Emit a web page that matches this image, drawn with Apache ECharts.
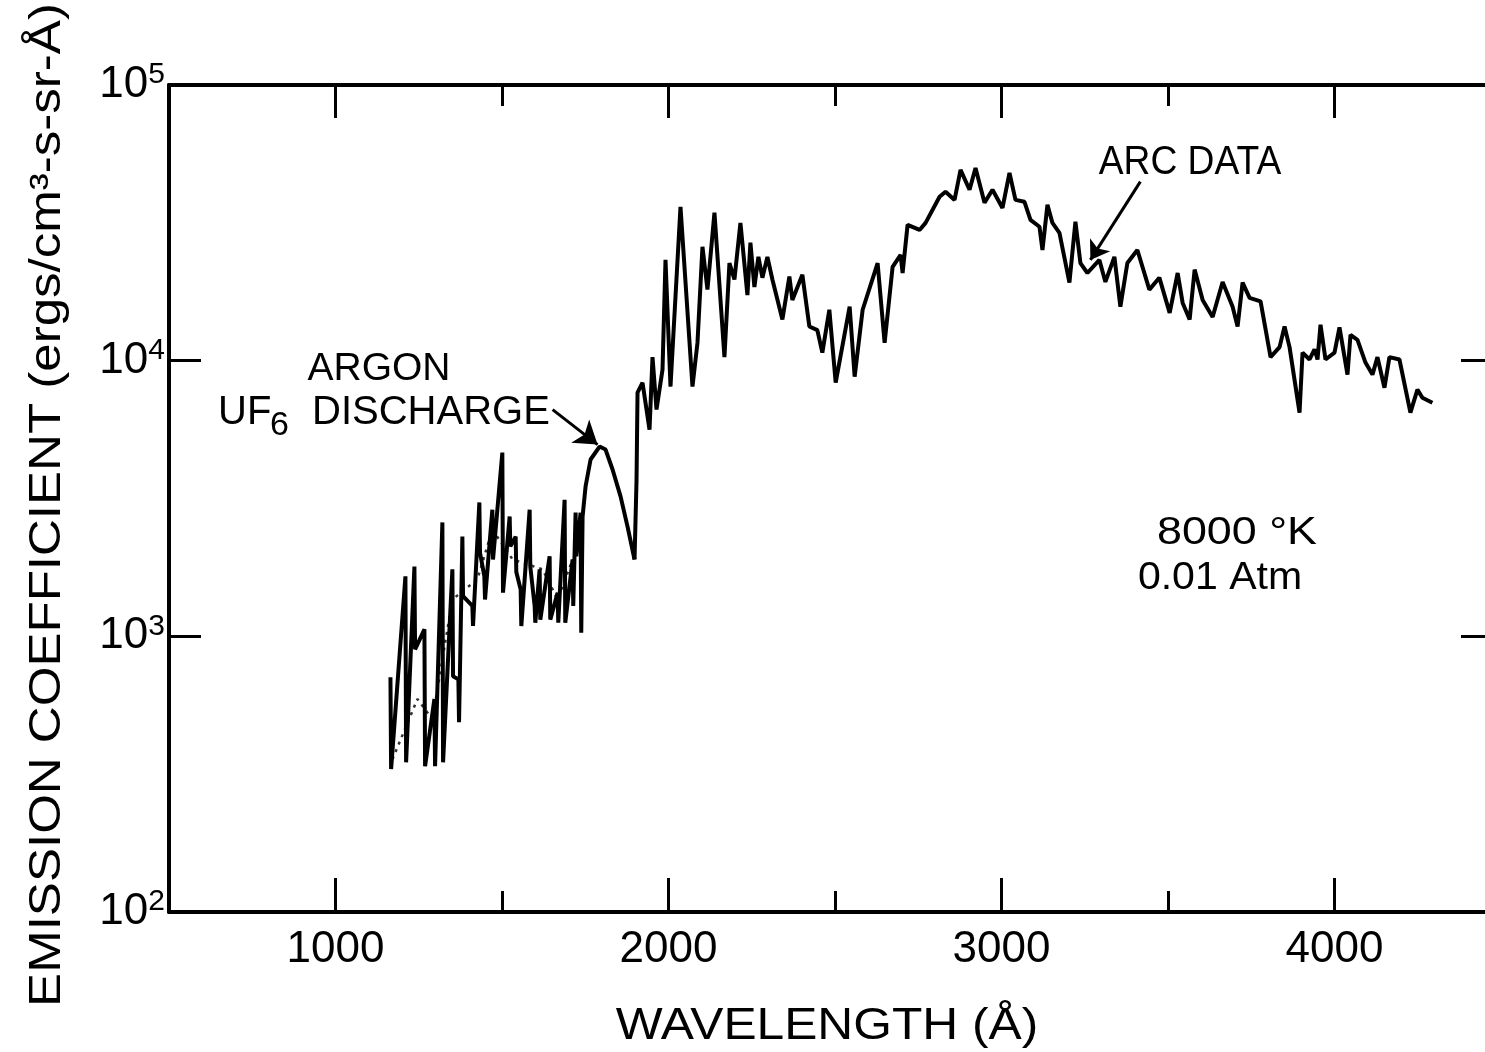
<!DOCTYPE html>
<html>
<head>
<meta charset="utf-8">
<title>Emission coefficient vs wavelength</title>
<script src="https://cdn.jsdelivr.net/npm/echarts@6.0.0/dist/echarts.min.js"></script>
<style>
  html, body { margin: 0; padding: 0; background: #fff; }
  #main { width: 1485px; height: 1052px; }
</style>
</head>
<body>
<div id="main"></div>
<script>
// argon / UF6 discharge, spiky part: one vertical stroke per wavelength (top and bottom value)
var spikeWave   = [1165, 1210, 1237, 1267, 1297, 1321, 1351, 1369, 1381, 1411, 1432, 1447, 1471, 1501, 1523, 1541, 1556, 1583, 1598, 1613, 1643, 1667, 1688, 1712, 1721, 1736];
var spikeTop    = [710, 1650, 1790, 1060, 592, 2590, 1750, 698, 2300, 1290, 3060, 1650, 2880, 4640, 2720, 2300, 1480, 2880, 1290, 1750, 1950, 1440, 3130, 1900, 2810, 2810];
var spikeBottom = [330, 349, 897, 338, 338, 349, 716, 488, 1400, 1090, 2010, 1360, 1900, 1440, 2120, 1710, 1090, 1790, 1120, 1150, 1150, 1120, 1120, 1290, 1950, 1030];

// discharge, smooth hump
var humpWave  = [1742, 1751, 1766, 1793, 1811, 1832, 1856, 1877, 1898];
var humpValue = [2720, 3500, 4380, 4880, 4760, 4030, 3220, 2500, 1900];

// dotted mean trace inside the spiky part
var dotWave  = [1171, 1246, 1291, 1351, 1426, 1471, 1532, 1622, 1667, 1712];
var dotValue = [358, 592, 500, 1360, 1610, 2440, 1900, 1750, 1360, 1900];

// arc data
var arcWave = [1898, 1904, 1907, 1922, 1943, 1952, 1964, 1982, 1991, 2006, 2036, 2072, 2087, 2102, 2117, 2138,
  2168, 2183, 2198, 2216, 2237, 2246, 2258, 2270, 2282, 2297, 2312, 2342, 2363, 2372, 2402, 2423, 2447, 2462,
  2483, 2502, 2544, 2559, 2583, 2628, 2649, 2673, 2697, 2703, 2718, 2754, 2772, 2814, 2832, 2859, 2877, 2904,
  2922, 2949, 2973, 3003, 3024, 3042, 3069, 3087, 3114, 3123, 3138, 3153, 3174, 3204, 3222, 3237, 3258, 3294,
  3312, 3339, 3357, 3378, 3408, 3444, 3474, 3505, 3529, 3544, 3565, 3580, 3604, 3634, 3664, 3694, 3709, 3724,
  3745, 3778, 3808, 3835, 3850, 3865, 3895, 3904, 3925, 3940, 3949, 3958, 3973, 4000, 4015, 4039, 4048, 4069,
  4093, 4114, 4129, 4150, 4165, 4195, 4228, 4249, 4264, 4294];
var arcValue = [1900, 3700, 7660, 8320, 5620, 10300, 6650, 9280, 23200, 8050, 36100, 8050, 11600, 25900, 18100, 34400,
  10300, 22600, 19700, 31600, 17300, 26800, 18500, 23800, 20000, 23800, 19700, 14100, 20200, 16600, 20500, 13300, 12900, 10700,
  15300, 8320, 15700, 8750, 15300, 22600, 11600, 21900, 24200, 20800, 31100, 29800, 31600, 39300, 41000, 38300, 49200, 41700,
  50000, 37400, 41700, 35800, 48000, 38300, 37700, 32400, 30600, 25200, 36800, 31600, 29100, 19200, 31900, 22600, 20800, 23200,
  19300, 23800, 15700, 22600, 25200, 18100, 20000, 14900, 20800, 16200, 14100, 21400, 16600, 14400, 19300, 15700, 13300, 19200,
  16900, 16400, 10300, 11200, 13300, 11200, 6480, 10700, 10100, 11000, 10100, 13500, 10100, 10700, 13200, 8900, 12400, 11900,
  9840, 8900, 10300, 7980, 10300, 10100, 6480, 7850, 7340, 7040];

var majorTicks = [1000, 2000, 3000, 4000];
var minorTicks = [1500, 2500, 3500];

// arrows from the labels to the curve [wavelength, value]
var argonArrow = [[1652, 6640], [1787, 4960]];
var arcArrow = [[3417, 44600], [3267, 23200]];

var FONT = '"Liberation Sans", Arial, sans-serif';

var dischargeData = [];
for (var i = 0; i < spikeWave.length; i++) {
  dischargeData.push([spikeWave[i], spikeTop[i]]);
  dischargeData.push([spikeWave[i] + 2, spikeBottom[i]]);
}
for (var j = 0; j < humpWave.length; j++) {
  dischargeData.push([humpWave[j], humpValue[j]]);
}
var dotData = dotWave.map(function (w, k) { return [w, dotValue[k]]; });
var arcData = arcWave.map(function (w, k) { return [w, arcValue[k]]; });

function xAx(pos, ticks, len, withLine, withLabel) {
  return {
    type: 'value', position: pos, min: 500, max: 4500,
    axisLine: { show: withLine, lineStyle: { color: '#000', width: 4 } },
    axisTick: { show: true, inside: true, length: len, customValues: ticks, lineStyle: { color: '#000', width: 3 } },
    axisLabel: withLabel ? {
      show: true, customValues: ticks, fontSize: 44, fontFamily: FONT, color: '#000', margin: 16,
      formatter: function (v) { return String(v); }
    } : { show: false },
    splitLine: { show: false }
  };
}

function txt(x, y, s, size, opt) {
  opt = opt || {};
  return {
    type: 'text', x: x, y: y,
    rotation: opt.rot || 0, scaleX: opt.sx || 1,
    style: {
      text: s, fill: '#000', font: size + 'px ' + FONT,
      align: opt.align || 'center', textAlign: opt.align || 'center',
      verticalAlign: 'middle', textVerticalAlign: 'middle'
    }
  };
}

var chart = echarts.init(document.getElementById('main'));
chart.setOption({
  animation: false,
  backgroundColor: '#fff',
  grid: { left: 169, right: -16, top: 85, bottom: 140, outerBoundsMode: 'none' },
  xAxis: [
    xAx('bottom', majorTicks, 34, true, true),
    xAx('bottom', minorTicks, 21, false, false),
    xAx('top', majorTicks, 33, true, false),
    xAx('top', minorTicks, 21, false, false)
  ],
  yAxis: [
    {
      type: 'log', logBase: 10, min: 100, max: 100000, position: 'left',
      axisLine: { show: true, lineStyle: { color: '#000', width: 4 } },
      axisTick: { show: true, inside: true, length: 32, lineStyle: { color: '#000', width: 3 } },
      axisLabel: {
        margin: 4,
        formatter: function (v) { return '{b|10}{s|' + Math.round(Math.log10(v)) + '}'; },
        rich: {
          b: { fontSize: 44, fontFamily: FONT, color: '#000', lineHeight: 50 },
          s: { fontSize: 30, fontFamily: FONT, color: '#000', lineHeight: 30, verticalAlign: 'top' }
        }
      },
      splitLine: { show: false }, minorTick: { show: false }
    },
    {
      type: 'log', logBase: 10, min: 100, max: 100000, position: 'right',
      axisLine: { show: true, lineStyle: { color: '#000', width: 4 } },
      axisTick: { show: true, inside: true, length: 40, lineStyle: { color: '#000', width: 3 } },
      axisLabel: { show: false }, splitLine: { show: false }
    }
  ],
  series: [
    {
      name: 'Argon UF6 discharge', type: 'line', data: dischargeData,
      showSymbol: false, lineStyle: { color: '#000', width: 4 }, z: 3,
      markLine: {
        silent: true, symbol: ['none', 'arrow'], symbolSize: 22,
        lineStyle: { color: '#000', width: 3, type: 'solid' }, label: { show: false },
        data: [[{ coord: argonArrow[0] }, { coord: argonArrow[1] }]]
      }
    },
    {
      name: 'discharge mean', type: 'line', data: dotData,
      showSymbol: false, lineStyle: { color: '#333', width: 2.5, type: [3, 5] }, z: 2
    },
    {
      name: 'Arc data', type: 'line', data: arcData,
      showSymbol: false, lineStyle: { color: '#000', width: 4 }, z: 3,
      markLine: {
        silent: true, symbol: ['none', 'arrow'], symbolSize: 18,
        lineStyle: { color: '#000', width: 3, type: 'solid' }, label: { show: false },
        data: [[{ coord: arcArrow[0] }, { coord: arcArrow[1] }]]
      }
    }
  ],
  graphic: [
    txt(48, 505, 'EMISSION COEFFICIENT (ergs/cm³-s-sr-Å)', 44, { rot: Math.PI / 2, sx: 1.16 }),
    txt(827, 1027, 'WAVELENGTH (Å)', 44, { sx: 1.13 }),
    txt(379, 369, 'ARGON', 39),
    txt(218, 413, 'UF', 40, { align: 'left' }),
    txt(270, 426, '6', 34, { align: 'left' }),
    txt(312, 413, 'DISCHARGE', 40, { align: 'left' }),
    txt(1190, 163, 'ARC DATA', 40, { sx: 0.93 }),
    txt(1237, 534, '8000 °K', 38, { sx: 1.18 }),
    txt(1220, 579, '0.01 Atm', 38, { sx: 1.08 })
  ]
});
</script>
</body>
</html>
